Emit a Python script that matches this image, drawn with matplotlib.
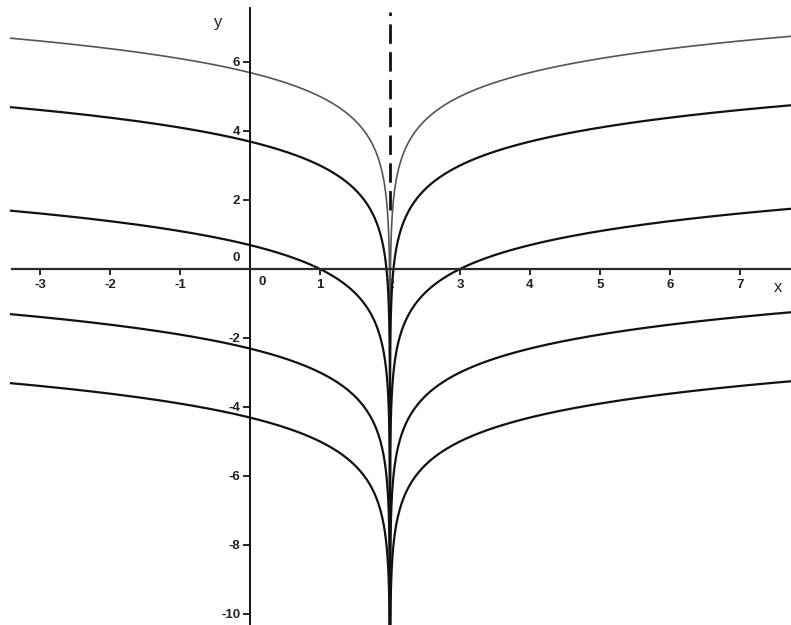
import numpy as np
import matplotlib
matplotlib.use("Agg")
import matplotlib.pyplot as plt

# Curves: y = ln|x - pole| + offset, offsets
pole_x = 2.0
offsets = [5, 3, 0, -3, -5]
curve_colors = ["#555555", "#111111", "#111111", "#111111", "#111111"]
curve_widths = [1.2, 1.6, 1.6, 1.6, 1.6]

x_ticks = [-3, -2, -1, 1, 2, 3, 4, 5, 6, 7]
x_tick_labels = ["-3", "-2", "-1", "1", "2", "3", "4", "5", "6", "7"]
y_ticks = [-10, -8, -6, -4, -2, 2, 4, 6]
y_tick_labels = ["-10", "-8", "-6", "-4", "-2", "2", "4", "6"]

x_min, x_max = -3.571, 7.729
y_min, y_max = -10.32, 7.797

fig = plt.figure(figsize=(7.91, 6.25), dpi=100)
ax = fig.add_axes([0, 0, 1, 1])
ax.set_xlim(x_min, x_max)
ax.set_ylim(y_min, y_max)

# curves
xl = np.concatenate([np.linspace(-3.43, 1.9, 400), pole_x - np.logspace(-1, -6, 300)])
xr = np.concatenate([pole_x + np.logspace(-6, -1, 300), np.linspace(2.1, 7.75, 400)])
for c, col, lw in zip(offsets, curve_colors, curve_widths):
    for xs in (xl, xr):
        ax.plot(xs, np.log(np.abs(xs - pole_x)) + c, color=col, lw=lw, solid_capstyle="butt")

# dashed asymptote (upper part)
ax.plot([pole_x, pole_x], [1.7, 7.45], color="#111111", lw=2.0, dashes=(7, 3))

# axes as spines through origin
for s in ("top", "right"):
    ax.spines[s].set_visible(False)
ax.spines["left"].set_position(("data", 0))
ax.spines["bottom"].set_position(("data", 0))
ax.spines["left"].set_bounds(y_min, 7.57)
ax.spines["bottom"].set_bounds(-3.4, x_max)
ax.spines["left"].set_linewidth(1.3)
ax.spines["bottom"].set_linewidth(1.6)
ax.spines["bottom"].set_color("#2a2a2a")

font = dict(family="Liberation Sans", weight="bold")
ax.set_xticks(x_ticks)
ax.set_xticklabels(x_tick_labels, fontsize=9.5, color="#222222", **font)
ax.set_yticks(y_ticks)
ax.set_yticklabels(y_tick_labels, fontsize=9.5, color="#222222", **font)
ax.tick_params(axis="x", direction="out", length=4, width=1.2, pad=3)
ax.tick_params(axis="y", direction="out", length=5, width=1.2, pad=2)

ax.text(0.17, -0.2, "0", ha="center", va="top", fontsize=9.5, color="#222222", **font)
ax.text(-0.19, 0.15, "0", ha="center", va="bottom", fontsize=9.5, color="#222222", **font)
ax.text(-0.46, 7.15, "y", ha="center", va="center", fontsize=12, color="#222222", family="Liberation Sans")
ax.text(7.54, -0.55, "x", ha="center", va="center", fontsize=12, color="#222222", family="Liberation Sans")

fig.savefig("out.png", dpi=100)
